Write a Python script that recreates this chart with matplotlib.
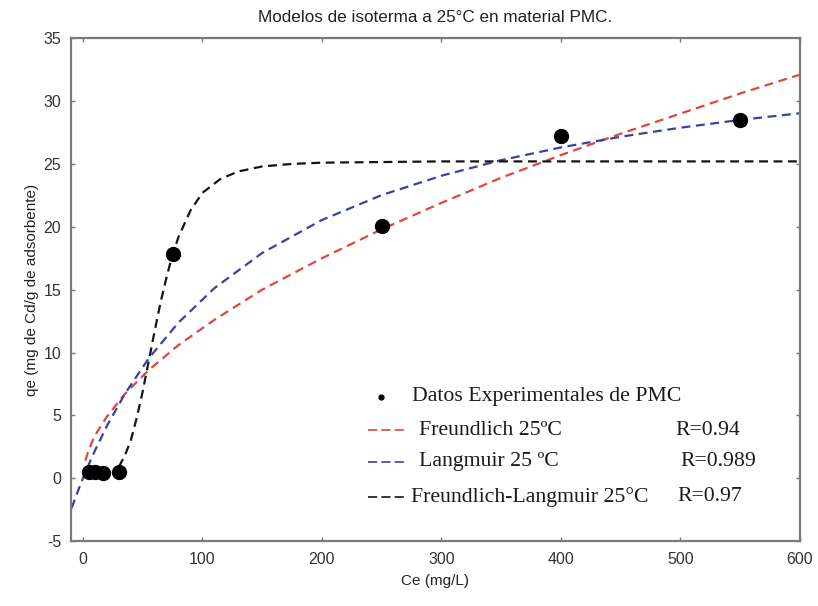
import matplotlib
matplotlib.use('Agg')
import matplotlib.pyplot as plt

# Experimental points (Ce in mg/L, qe in mg Cd / g adsorbent)
ce_exp = [5, 10, 17, 30, 75, 250, 400, 550]
qe_exp = [0.5, 0.5, 0.4, 0.5, 17.8, 20.1, 27.2, 28.5]

# Model curves
ce_freundlich = [2, 5, 10, 20, 35, 55, 80, 110, 150, 200, 250, 300, 350, 400, 450, 500, 550, 600]
qe_freundlich = [1.4, 2.3, 3.4, 4.9, 6.7, 8.6, 10.6, 12.6, 15.0, 17.5, 19.8, 21.9, 23.9, 25.7, 27.4, 29.0, 30.6, 32.1]

ce_langmuir = [-9.5, -5, 0, 5, 10, 20, 35, 55, 80, 110, 150, 200, 250, 300, 350, 400, 450, 500, 550, 600]
qe_langmuir = [-2.37, -1.21, 0.0, 1.13, 2.2, 4.15, 6.7, 9.53, 12.39, 15.12, 17.92, 20.54, 22.52, 24.06, 25.3, 26.31, 27.16, 27.88, 28.5, 29.03]

ce_sips = [30, 35, 40, 45, 50, 55, 60, 65, 70, 75, 80, 90, 100, 115, 130, 150, 175, 200, 250, 300, 400, 500, 600]
qe_sips = [0.9, 1.8, 3.0, 4.8, 6.9, 9.3, 11.7, 14.0, 16.0, 17.8, 19.2, 21.3, 22.7, 23.8, 24.4, 24.8, 25.0, 25.1, 25.15, 25.2, 25.2, 25.2, 25.2]

legend_labels = ['Datos Experimentales de PMC', 'Freundlich 25ºC', 'Langmuir 25 ºC', 'Freundlich-Langmuir 25°C']
r_values = ['R=0.94', 'R=0.989', 'R=0.97']

red = '#e2453c'
blue = '#3b3fa6'
black = '#141414'
sans = ['Liberation Sans', 'DejaVu Sans']
serif = ['Liberation Serif', 'DejaVu Serif']

plt.rcParams['axes.unicode_minus'] = False

fig = plt.figure(figsize=(8.18, 6.06), dpi=100)
ax = fig.add_axes([0.0868, 0.107, 0.891, 0.830])

dash = (4, 2.5)
ax.plot(ce_freundlich, qe_freundlich, color=red, lw=1.6, dashes=dash)
ax.plot(ce_langmuir, qe_langmuir, color=blue, lw=1.6, dashes=dash)
ax.plot(ce_sips, qe_sips, color=black, lw=1.6, dashes=dash)
ax.plot(ce_exp, qe_exp, 'o', color='black', markersize=10, zorder=5)

ax.set_xlim(-10, 600)
ax.set_ylim(-5, 35)
ax.set_xticks(range(0, 601, 100))
ax.set_yticks(range(-5, 36, 5))
ax.tick_params(direction='in', length=3, width=1, colors='#777777', labelcolor='#333333',
               labelsize=11.5, top=True, right=True)
ax.tick_params(axis='x', pad=8)
ax.tick_params(axis='y', pad=7)
for lbl in ax.get_xticklabels() + ax.get_yticklabels():
    lbl.set_family(sans)
for s in ax.spines.values():
    s.set_color('#7a7a7a')
    s.set_linewidth(1.6)

ax.set_title('Modelos de isoterma a 25°C en material PMC.', family=sans, fontsize=12.3,
             color='#222222', pad=12)
ax.set_xlabel('Ce (mg/L)', family=sans, fontsize=11, color='#222222', labelpad=5)
ax.set_ylabel('qe (mg de Cd/g de adsorbente)', family=sans, fontsize=11, color='#222222', labelpad=3)

# hand-placed legend block, lower right
tr = ax.transAxes
rows_y = [0.287, 0.2207, 0.1577, 0.088]
ax.plot([0.426], [rows_y[0]], 'o', color='black', markersize=3.5, transform=tr)
for y, col in zip(rows_y[1:], [red, blue, black]):
    ax.plot([0.408, 0.461], [y, y], color=col, lw=1.2, dashes=(5.5, 2.5), transform=tr)
text_x = [0.468, 0.478, 0.478, 0.466]
for x, y, lab in zip(text_x, rows_y, legend_labels):
    ax.text(x, y, lab, transform=tr, family=serif, fontsize=15.7, va='center', color='#1a1a1a')
for x, y, r in zip([0.829, 0.836, 0.832], rows_y[1:], r_values):
    ax.text(x, y, r, transform=tr, family=serif, fontsize=15.7, va='center', color='#1a1a1a')

plt.savefig('out.png', dpi=100)
